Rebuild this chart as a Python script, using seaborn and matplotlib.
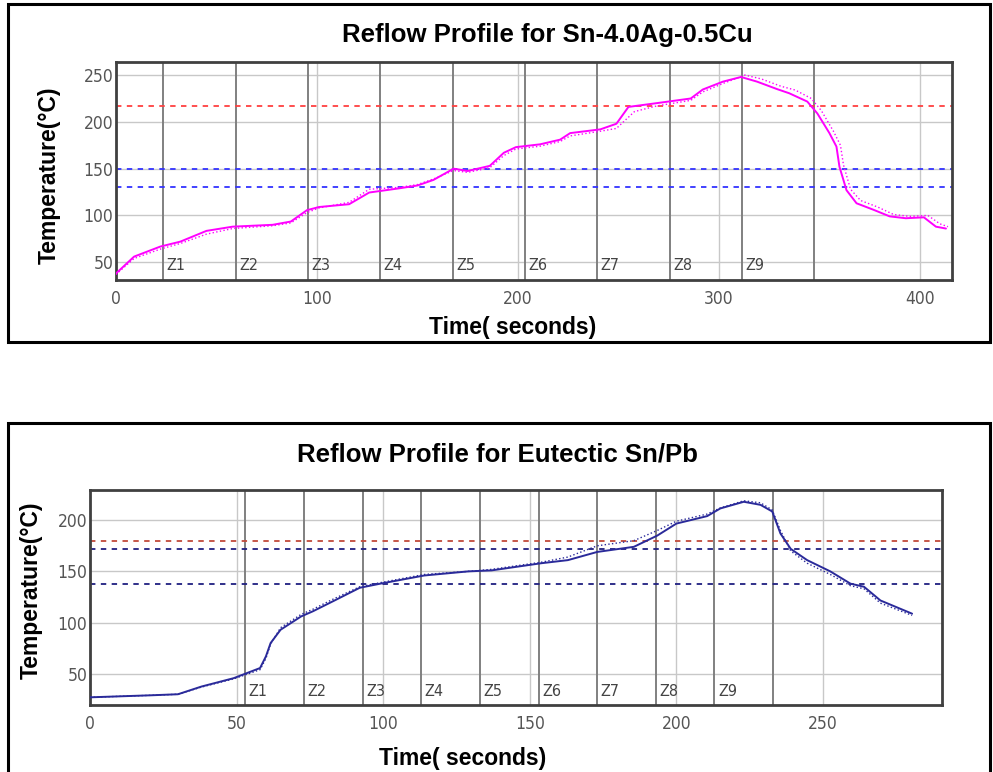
import matplotlib
matplotlib.use("Agg")
import matplotlib.pyplot as plt
import seaborn as sns
import pandas as pd
from matplotlib.patches import Rectangle
from matplotlib import font_manager

# ---------------- data ----------------
# Sn-4.0Ag-0.5Cu profile (solid trace)
sac_time = [0, 9, 22, 32, 45, 58, 78, 87, 95, 101, 116, 126, 141, 150, 158, 168, 175, 186, 193, 199,
            211, 221, 226, 241, 249, 255, 269, 286, 292, 302, 311, 319, 329, 335, 344, 349, 355, 358.5,
            360, 363.5, 368.5, 377, 385, 393, 402, 408, 413]
sac_temp = [38, 56, 66.7, 72, 83.5, 88, 90, 93.5, 105.6, 109, 112, 124.5, 129, 132, 138, 150, 147.5, 153,
            167, 173, 176, 181, 188, 192, 198, 216, 220, 225, 234.6, 243, 248, 243, 235, 230.6, 221.7, 209,
            188, 173.6, 152, 127, 113, 106, 99, 97, 98, 88, 86]
# Sn-4.0Ag-0.5Cu profile (dotted trace)
sac_time_b = [0, 9, 22, 32, 45, 58, 78, 87, 95, 101, 116, 126, 141, 150, 158, 168, 175, 186, 193, 199,
              211, 221, 226, 241, 249, 258, 269, 286, 292, 302, 313, 321, 331, 338, 346, 351, 357, 360.5,
              362, 365.5, 370.5, 379, 387, 395, 404, 410, 414]
sac_temp_b = [37, 54, 64, 70, 80, 86, 89, 92, 103, 108, 114, 128, 130, 133, 139, 148, 146, 151, 164, 171,
              174, 179, 185, 190, 193, 211, 217, 223, 232, 241, 250, 246, 238, 234, 225, 212, 190, 175,
              154, 128, 116, 109, 101, 99, 100, 91, 88]
sac_refs_red = [217]
sac_refs_blue = [150, 130]
sac_zones = [23.5, 59.5, 95.5, 131.5, 167.5, 203.5, 239.5, 275.5, 311.5, 347.5]

# Eutectic Sn/Pb profile (solid trace)
snpb_time = [0, 21, 30, 38, 49, 58, 60, 61.6, 65, 72, 76, 83, 92, 99, 114, 129, 137, 154, 163, 173,
             185.5, 193.5, 200, 210.5, 215, 223, 228.7, 232.7, 235.5, 239, 244.6, 252.5, 259.4, 264,
             269.6, 280.4]
snpb_temp = [27, 29, 30, 37.5, 45.7, 55.6, 67, 80, 93, 106, 111, 121, 134, 138, 146, 150, 151, 158, 161,
             169, 174, 185, 196.7, 204, 211.5, 218, 215, 208.5, 187, 172, 161, 150, 138, 135, 121.6, 108.7]
# Eutectic Sn/Pb profile (dotted trace)
snpb_temp_b = [27, 29, 30, 37, 45, 54, 65, 79, 95, 108, 113, 123, 135, 139, 147, 150, 152, 159, 164,
               175, 180, 190, 199, 206, 212, 219, 217, 210, 190, 170, 158, 147, 136, 133, 119, 107]
snpb_refs_red = [180]
snpb_refs_blue = [172, 138]
snpb_zones = [53, 73, 93, 113, 133, 153, 173, 193, 213, 233]

zone_labels = ["Z1", "Z2", "Z3", "Z4", "Z5", "Z6", "Z7", "Z8", "Z9"]

sns.set_style("white")
plt.rcParams['font.family'] = ['Liberation Sans', 'DejaVu Sans']
plt.rcParams['text.color'] = 'black'

# narrow font for tick labels if available
names = {f.name for f in font_manager.fontManager.ttflist}
if 'Liberation Sans Narrow' in names:
    NARROW = dict(family=['Liberation Sans Narrow', 'DejaVu Sans'])
elif 'DejaVu Sans Condensed' in names:
    NARROW = dict(family=['DejaVu Sans Condensed', 'DejaVu Sans'])
else:
    NARROW = dict(family=['DejaVu Sans'], stretch='condensed')

fig = plt.figure(figsize=(9.93, 7.72), dpi=100)

ax1 = fig.add_axes([116/993, 1-280/772, (952-116)/993, (280-62)/772])
ax2 = fig.add_axes([90/993, 1-705/772, (942-90)/993, (705-490)/772])


def draw(ax, t, y, tb, yb, color, reds, blues, redc, bluec, zones, xlim, ylim, xt, yt, zy):
    ax.set_xlim(*xlim)
    ax.set_ylim(*ylim)
    ax.set_xticks(xt)
    ax.set_yticks(yt)
    ax.grid(True, color="#c8c8c8", linewidth=1.0)
    ax.set_axisbelow(True)
    for z in zones:
        ax.axvline(z, color="#808080", linewidth=1.4, zorder=1.5)
    for i, lab in enumerate(zone_labels):
        ax.text(zones[i] + (xlim[1]-xlim[0])*0.004, zy, lab, fontsize=11.5, color="#444444",
                va="center", ha="left", **NARROW)
    for r in reds:
        ax.axhline(r, color=redc, linestyle=(0, (3, 3)), linewidth=1.3, zorder=2)
    for b in blues:
        ax.axhline(b, color=bluec, linestyle=(0, (3, 3)), linewidth=1.3, zorder=2)
    sns.lineplot(x=tb, y=yb, ax=ax, color=color, linewidth=1.0, linestyle=":", zorder=3)
    sns.lineplot(x=t, y=y, ax=ax, color=color, linewidth=1.4, zorder=4)
    for s in ax.spines.values():
        s.set_color("#404040")
        s.set_linewidth(2)
    ax.tick_params(direction="in", length=4, color="#404040", labelcolor="#555555",
                   labelsize=12.5, top=False, right=False)
    ax.tick_params(axis="x", pad=7)
    ax.tick_params(axis="y", pad=2)
    for lab in ax.get_xticklabels() + ax.get_yticklabels():
        lab.set_fontproperties(font_manager.FontProperties(size=12.5, **NARROW))
    ax.set_xlabel("")
    ax.set_ylabel("")


draw(ax1, sac_time, sac_temp, sac_time_b, sac_temp_b, "#ff00ff", sac_refs_red, sac_refs_blue,
     "#ff4040", "#3333ff", sac_zones, (0, 416), (31, 264), [0, 100, 200, 300, 400],
     [50, 100, 150, 200, 250], 46)
draw(ax2, snpb_time, snpb_temp, snpb_time, snpb_temp_b, "#2a2a9a", snpb_refs_red, snpb_refs_blue,
     "#c04a3a", "#1f1f80", snpb_zones, (0, 290.6), (19.5, 229.5), [0, 50, 100, 150, 200, 250],
     [50, 100, 150, 200], 33)

# titles & labels
fig.text(547.5/993, 1-35/772, "Reflow Profile for Sn-4.0Ag-0.5Cu", ha="center", va="center",
         fontsize=18.5, fontweight="bold", color="black")
fig.text(497.5/993, 1-454/772, "Reflow Profile for Eutectic Sn/Pb", ha="center", va="center",
         fontsize=18.5, fontweight="bold", color="black")
fig.text(513/993, 1-328/772, "Time( seconds)", ha="center", va="center", fontsize=16.5,
         fontweight="bold", color="black")
fig.text(463/993, 1-758/772, "Time( seconds)", ha="center", va="center", fontsize=16.5,
         fontweight="bold", color="black")
fig.text(49/993, 1-175/772, "Temperature(°C)", ha="center", va="center", rotation=90,
         fontsize=16.5, fontweight="bold", color="black")
fig.text(31/993, 1-590/772, "Temperature(°C)", ha="center", va="center", rotation=90,
         fontsize=16.5, fontweight="bold", color="black")

# outer frames
fig.patches.append(Rectangle((8/993, 1-342/772), 982/993, 338/772, transform=fig.transFigure,
                             fill=False, edgecolor="black", linewidth=2.2))
fig.patches.append(Rectangle((8/993, -0.01), 982/993, (772-423)/772 + 0.01, transform=fig.transFigure,
                             fill=False, edgecolor="black", linewidth=2.2))

fig.savefig("out.png", dpi=100)
